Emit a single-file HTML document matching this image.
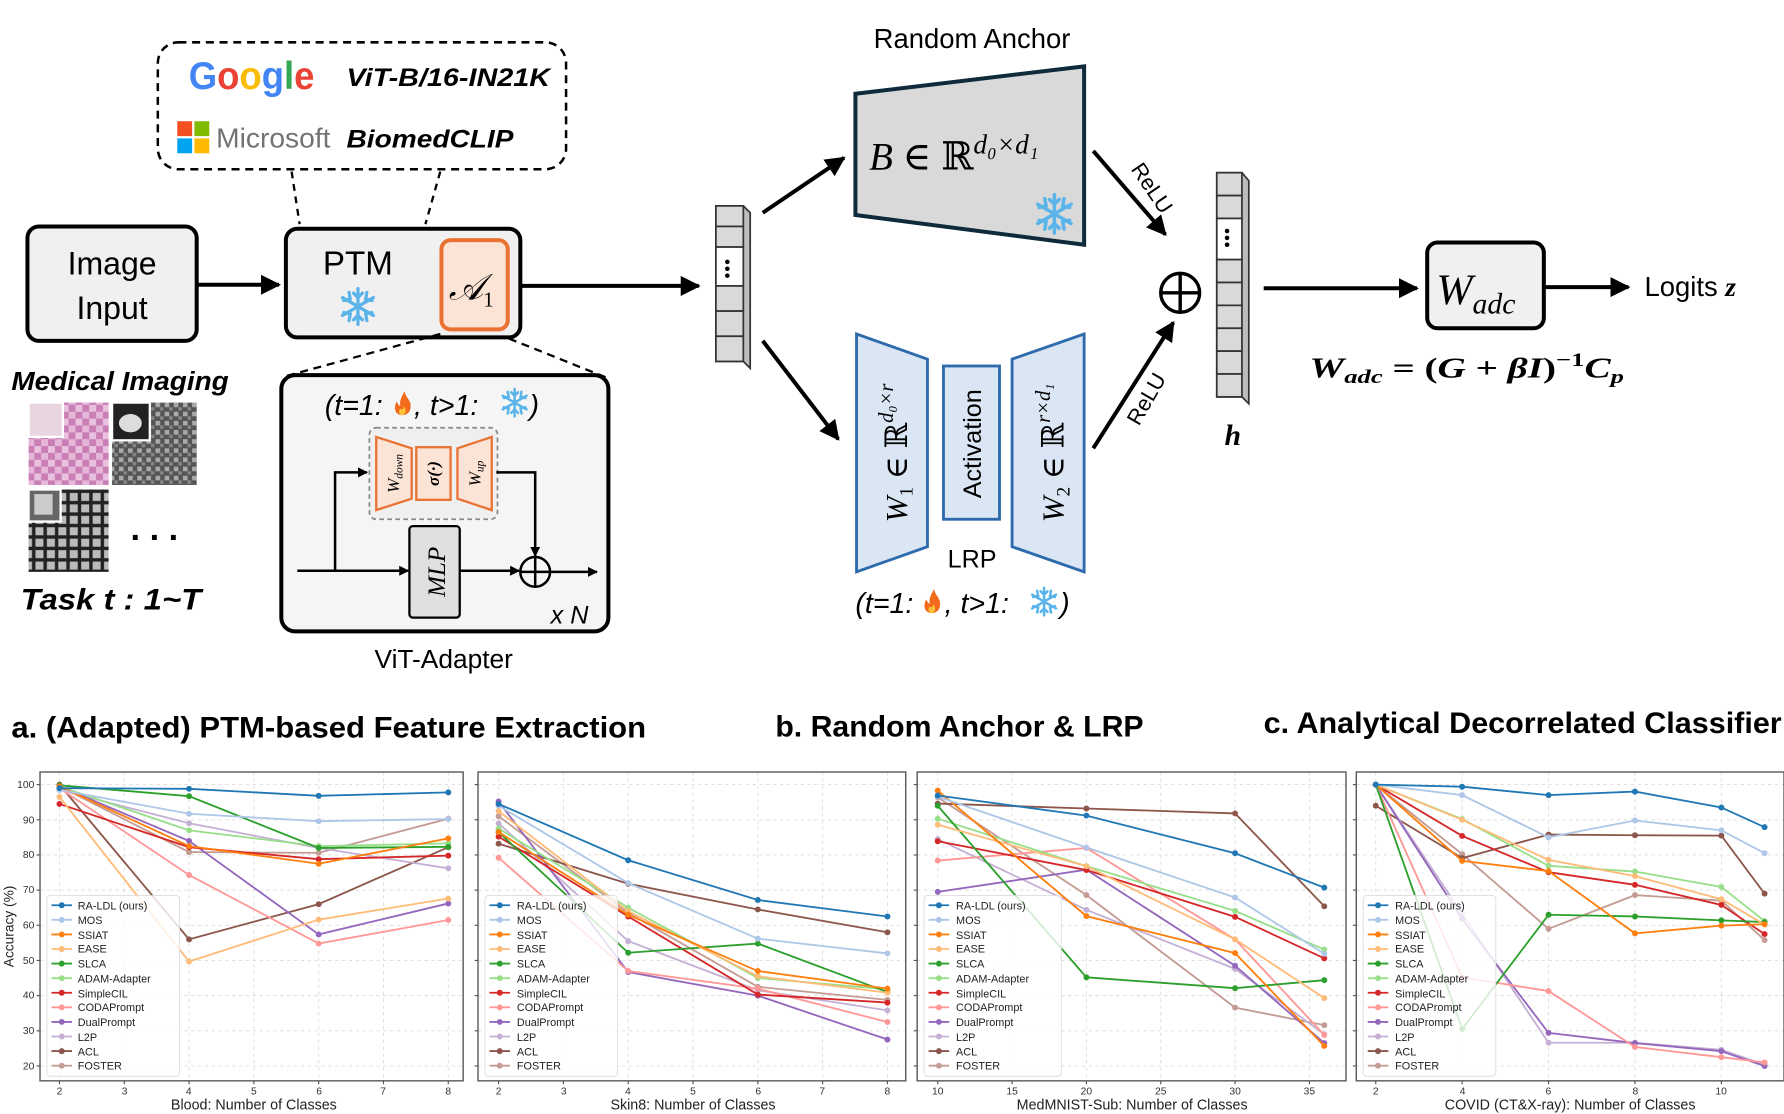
<!DOCTYPE html>
<html><head><meta charset="utf-8"><style>
html,body{margin:0;padding:0;background:#fff;}
svg{display:block;}
text{font-family:"Liberation Sans","DejaVu Sans",sans-serif;}
.ser{font-family:"Liberation Serif","DejaVu Serif",serif;}
.tk{font-size:9px;fill:#333;}
.lg{font-size:9.5px;fill:#222;}
.xl{font-size:12.5px;fill:#222;}
.ttl{font-size:26px;font-weight:bold;fill:#000;}
</style></head><body>
<svg id="s" width="1784" height="1114" viewBox="0 0 1560 974" preserveAspectRatio="none" xmlns="http://www.w3.org/2000/svg">
<defs>
<marker id="ah" viewBox="0 0 10 10" refX="9" refY="5" markerWidth="5" markerHeight="5" orient="auto"><path d="M0,0L10,5L0,10z" fill="#000"/></marker>
<marker id="ah2" viewBox="0 0 10 10" refX="9" refY="5" markerWidth="4" markerHeight="4" orient="auto"><path d="M0,0L10,5L0,10z" fill="#000"/></marker>
<pattern id="pk" width="12" height="12" patternUnits="userSpaceOnUse"><rect width="12" height="12" fill="#c97fb5"/><rect width="6" height="6" fill="#e6b6d8"/><rect x="6" y="6" width="6" height="6" fill="#e9c0dd"/></pattern>
<pattern id="gn" width="8" height="8" patternUnits="userSpaceOnUse"><rect width="8" height="8" fill="#555"/><rect width="4" height="4" fill="#aaa"/><rect x="4" y="4" width="3" height="3" fill="#888"/></pattern>
<pattern id="gd" width="10" height="10" patternUnits="userSpaceOnUse"><rect width="10" height="10" fill="#222"/><rect x="1" y="1" width="7" height="7" fill="#bbb"/></pattern>
<g id="snow" stroke="#5ab4ea" stroke-width="2.2" stroke-linecap="round" fill="none"><path d="M0,-12V12M-10.4,-6L10.4,6M-10.4,6L10.4,-6M-3,-9L0,-6L3,-9M-3,9L0,6L3,9M6,-9.5L5.2,-5L9.5,-4M-6,9.5L-5.2,5L-9.5,4M-9.5,-4L-5.2,-5L-6,-9.5M9.5,4L5.2,5L6,9.5"/></g>
<g id="fire"><path d="M0,10C-7,10 -8,3 -5,-2C-4,1 -2,2 -2,2C-3,-3 0,-8 2,-11C2,-6 8,-3 7,3C7,7 4,10 0,10Z" fill="#f26b1d"/><path d="M0,10C-3,10 -4,7 -2,4C-1,6 1,5 1,2C3,5 4,8 0,10Z" fill="#ffc53a"/></g>
</defs>

<rect x="138" y="37" width="357" height="111" rx="18" fill="none" stroke="#000" stroke-width="2.2" stroke-dasharray="7,5"/>
<text x="165" y="78" font-size="34" font-weight="bold" textLength="110" lengthAdjust="spacingAndGlyphs"><tspan fill="#4285f4">G</tspan><tspan fill="#ea4335">o</tspan><tspan fill="#fbbc05">o</tspan><tspan fill="#4285f4">g</tspan><tspan fill="#34a853">l</tspan><tspan fill="#ea4335">e</tspan></text>
<text x="303" y="75" font-size="22" font-weight="bold" font-style="italic" textLength="178" lengthAdjust="spacingAndGlyphs">ViT-B/16-IN21K</text>
<rect x="155" y="106" width="13" height="13" fill="#f25022"/><rect x="170" y="106" width="13" height="13" fill="#7fba00"/><rect x="155" y="121" width="13" height="13" fill="#00a4ef"/><rect x="170" y="121" width="13" height="13" fill="#ffb900"/>
<text x="189" y="129" font-size="24" fill="#737373" textLength="100" lengthAdjust="spacingAndGlyphs">Microsoft</text>
<text x="303" y="129" font-size="22" font-weight="bold" font-style="italic" textLength="146" lengthAdjust="spacingAndGlyphs">BiomedCLIP</text>
<line x1="255" y1="150" x2="262" y2="196" stroke="#000" stroke-width="2" stroke-dasharray="6,5"/>
<line x1="385" y1="150" x2="372" y2="196" stroke="#000" stroke-width="2" stroke-dasharray="6,5"/>

<rect x="24" y="198" width="148" height="100" rx="10" fill="#f0f0f0" stroke="#000" stroke-width="3.5"/>
<text x="98" y="240" font-size="28" text-anchor="middle">Image</text>
<text x="98" y="279" font-size="28" text-anchor="middle">Input</text>
<line x1="172" y1="249" x2="244" y2="249" stroke="#000" stroke-width="3.5" marker-end="url(#ah)"/>

<rect x="250" y="200" width="205" height="95" rx="10" fill="#f0f0f0" stroke="#000" stroke-width="3.5"/>
<text x="313" y="240" font-size="29" text-anchor="middle">PTM</text>
<use href="#snow" transform="translate(313 268) scale(1.3)"/>
<rect x="386" y="210" width="58" height="78" rx="8" fill="#fbe3d6" stroke="#e97132" stroke-width="3.5"/>
<text x="412" y="262" font-size="32" font-style="italic" text-anchor="middle" class="ser">𝒜<tspan font-size="18" dy="6" font-style="normal">1</tspan></text>
<line x1="455" y1="250" x2="611" y2="250" stroke="#000" stroke-width="3.5" marker-end="url(#ah)"/>
<line x1="385" y1="292" x2="246" y2="330" stroke="#000" stroke-width="2" stroke-dasharray="7,5"/>
<line x1="445" y1="296" x2="530" y2="330" stroke="#000" stroke-width="2" stroke-dasharray="7,5"/>

<text x="105" y="341" font-size="23" font-weight="bold" font-style="italic" text-anchor="middle" textLength="190" lengthAdjust="spacingAndGlyphs">Medical Imaging</text>
<rect x="25" y="352" width="70" height="72" fill="url(#pk)"/>
<rect x="25" y="352" width="30" height="30" fill="#e8d5e0" stroke="#fff" stroke-width="2"/>
<rect x="98" y="352" width="74" height="72" fill="url(#gn)"/>
<rect x="98" y="352" width="33" height="33" fill="#222" stroke="#fff" stroke-width="2"/><ellipse cx="114" cy="370" rx="10" ry="8" fill="#ddd"/>
<rect x="25" y="428" width="70" height="72" fill="url(#gd)"/>
<rect x="25" y="428" width="28" height="28" fill="#666" stroke="#fff" stroke-width="2"/><rect x="30" y="432" width="16" height="18" fill="#ccc"/>
<text x="135" y="472" font-size="30" font-weight="bold" text-anchor="middle">. . .</text>
<text x="97" y="533" font-size="26" font-weight="bold" font-style="italic" text-anchor="middle" textLength="158" lengthAdjust="spacingAndGlyphs">Task t : 1~T</text>

<rect x="246" y="328" width="286" height="224" rx="12" fill="#f5f5f5" stroke="#000" stroke-width="3.5"/>
<text x="284" y="363" font-size="25" font-style="italic">(t=1:</text><use href="#fire" x="352" y="353"/><text x="362" y="363" font-size="25" font-style="italic">, t&gt;1:</text><use href="#snow" x="450" y="352"/><text x="463" y="363" font-size="25" font-style="italic">)</text>
<rect x="323" y="374" width="112" height="80" rx="6" fill="#efefef" stroke="#888" stroke-width="1.5" stroke-dasharray="4,3"/>
<polygon points="329,382 360,392 360,436 329,446" fill="#fbe3d6" stroke="#e97132" stroke-width="2"/>
<rect x="364" y="391" width="30" height="46" fill="#fbe3d6" stroke="#e97132" stroke-width="2"/>
<polygon points="400,392 430,382 430,446 400,436" fill="#fbe3d6" stroke="#e97132" stroke-width="2"/>
<text transform="translate(349 414) rotate(-90)" font-size="15" font-style="italic" text-anchor="middle" class="ser">W<tspan font-size="10" dy="3">down</tspan></text>
<text transform="translate(384 414) rotate(-90)" font-size="15" font-style="italic" font-weight="bold" text-anchor="middle" class="ser">σ(·)</text>
<text transform="translate(420 414) rotate(-90)" font-size="15" font-style="italic" text-anchor="middle" class="ser">W<tspan font-size="10" dy="3">up</tspan></text>
<polyline points="260,499 357,499" fill="none" stroke="#000" stroke-width="2.2" marker-end="url(#ah2)"/>
<polyline points="293,499 293,413 321,413" fill="none" stroke="#000" stroke-width="2.2" marker-end="url(#ah2)"/>
<polyline points="434,413 468,413 468,486" fill="none" stroke="#000" stroke-width="2.2" marker-end="url(#ah2)"/>
<rect x="358" y="460" width="44" height="80" rx="3" fill="#e0e0e0" stroke="#000" stroke-width="2"/>
<text transform="translate(389 500) rotate(-90)" font-size="22" font-style="italic" text-anchor="middle" class="ser">MLP</text>
<line x1="402" y1="499" x2="454" y2="499" stroke="#000" stroke-width="2.2" marker-end="url(#ah2)"/>
<circle cx="468" cy="500" r="13" fill="none" stroke="#000" stroke-width="2.2"/><path d="M455,500H481M468,487V513" stroke="#000" stroke-width="2.2"/>
<line x1="481" y1="500" x2="522" y2="500" stroke="#000" stroke-width="2.2" marker-end="url(#ah2)"/>
<text x="498" y="545" font-size="22" font-style="italic" text-anchor="middle">x N</text>
<text x="388" y="584" font-size="23" text-anchor="middle">ViT-Adapter</text>

<g stroke="#333" stroke-width="1.5" fill="#d9d9d9">
<polygon points="626,180 650,180 656,186 656,322 650,316 626,316" fill="#bdbdbd"/>
<rect x="626" y="180" width="24" height="18"/><rect x="626" y="198" width="24" height="18"/><rect x="626" y="216" width="24" height="34" fill="#fff"/><rect x="626" y="250" width="24" height="22"/><rect x="626" y="272" width="24" height="22"/><rect x="626" y="294" width="24" height="22"/>
</g>
<circle cx="636" cy="229" r="2" fill="#000"/><circle cx="636" cy="235" r="2" fill="#000"/><circle cx="636" cy="241" r="2" fill="#000"/>
<line x1="667" y1="186" x2="738" y2="138" stroke="#000" stroke-width="3.5" marker-end="url(#ah)"/>
<line x1="667" y1="298" x2="733" y2="384" stroke="#000" stroke-width="3.5" marker-end="url(#ah)"/>

<text x="850" y="42" font-size="24" text-anchor="middle">Random Anchor</text>
<polygon points="748,82 948,58 948,214 748,188" fill="#d9d9d9" stroke="#0e2a3b" stroke-width="3.5"/>
<text x="760" y="148" font-size="34" font-style="italic" class="ser">B <tspan font-style="normal">∈ ℝ</tspan><tspan font-size="24" dy="-14">d₀×d₁</tspan></text>
<use href="#snow" transform="translate(922 187) scale(1.4)"/>

<polygon points="749,292 811,314 811,478 749,500" fill="#dae6f3" stroke="#2e6bac" stroke-width="2.5"/>
<rect x="825" y="320" width="49" height="134" fill="#dae6f3" stroke="#2e6bac" stroke-width="2.5"/>
<polygon points="885,314 948,292 948,500 885,478" fill="#dae6f3" stroke="#2e6bac" stroke-width="2.5"/>
<text transform="translate(793 396) rotate(-90)" font-size="27" text-anchor="middle" class="ser"><tspan font-style="italic">W</tspan><tspan font-size="17" dy="5">1</tspan><tspan dy="-5"> ∈ ℝ</tspan><tspan font-size="18" dy="-12" font-style="italic">d₀×r</tspan></text>
<text transform="translate(858 388) rotate(-90)" font-size="22" text-anchor="middle">Activation</text>
<text transform="translate(930 396) rotate(-90)" font-size="27" text-anchor="middle" class="ser"><tspan font-style="italic">W</tspan><tspan font-size="17" dy="5">2</tspan><tspan dy="-5"> ∈ ℝ</tspan><tspan font-size="18" dy="-12" font-style="italic">r×d₁</tspan></text>
<text x="850" y="496" font-size="22" text-anchor="middle">LRP</text>
<text x="748" y="536" font-size="25" font-style="italic">(t=1:</text><use href="#fire" x="815" y="526"/><text x="826" y="536" font-size="25" font-style="italic">, t&gt;1:</text><use href="#snow" x="913" y="526"/><text x="927" y="536" font-size="25" font-style="italic">)</text>

<line x1="956" y1="132" x2="1019" y2="205" stroke="#000" stroke-width="3.5" marker-end="url(#ah)"/>
<line x1="956" y1="392" x2="1026" y2="282" stroke="#000" stroke-width="3.5" marker-end="url(#ah)"/>
<text transform="translate(1002 168) rotate(56)" font-size="19" text-anchor="middle">ReLU</text>
<text transform="translate(1008 352) rotate(-60)" font-size="19" text-anchor="middle">ReLU</text>
<circle cx="1032" cy="256" r="17" fill="#fff" stroke="#000" stroke-width="3"/><path d="M1015,256H1049M1032,239V273" stroke="#000" stroke-width="3"/>

<g stroke="#333" stroke-width="1.5" fill="#d9d9d9">
<polygon points="1064,151 1086,151 1092,158 1092,353 1086,347 1064,347" fill="#bdbdbd"/>
<rect x="1064" y="151" width="22" height="20"/><rect x="1064" y="171" width="22" height="20"/><rect x="1064" y="191" width="22" height="36" fill="#fff"/><rect x="1064" y="227" width="22" height="20"/><rect x="1064" y="247" width="22" height="20"/><rect x="1064" y="267" width="22" height="20"/><rect x="1064" y="287" width="22" height="20"/><rect x="1064" y="307" width="22" height="20"/><rect x="1064" y="327" width="22" height="20"/>
</g>
<circle cx="1073" cy="202" r="2" fill="#000"/><circle cx="1073" cy="208" r="2" fill="#000"/><circle cx="1073" cy="214" r="2" fill="#000"/>
<text x="1078" y="389" font-size="26" font-weight="bold" font-style="italic" text-anchor="middle" class="ser">h</text>
<line x1="1105" y1="252" x2="1239" y2="252" stroke="#000" stroke-width="3.5" marker-end="url(#ah)"/>
<rect x="1248" y="212" width="102" height="75" rx="9" fill="#f0f0f0" stroke="#000" stroke-width="3.5"/>
<text x="1256" y="266" font-size="38" font-style="italic" class="ser">W<tspan font-size="26" dy="8">adc</tspan></text>
<line x1="1351" y1="251" x2="1424" y2="251" stroke="#000" stroke-width="3.5" marker-end="url(#ah)"/>
<text x="1438" y="259" font-size="24">Logits <tspan font-weight="bold" font-style="italic" class="ser">z</tspan></text>
<text x="1145" y="330" font-size="25" font-weight="bold" font-style="italic" class="ser" textLength="275" lengthAdjust="spacingAndGlyphs">W<tspan font-size="17" dy="5">adc</tspan><tspan dy="-5" font-style="normal"> = (</tspan>G<tspan font-style="normal"> + </tspan>βI<tspan font-style="normal">)</tspan><tspan font-size="17" dy="-10" font-style="normal">−1</tspan><tspan dy="10">C</tspan><tspan font-size="17" dy="5">p</tspan></text>

<text x="10" y="645" class="ttl" textLength="555" lengthAdjust="spacingAndGlyphs">a. (Adapted) PTM-based Feature Extraction</text>
<text x="678" y="644" class="ttl" textLength="322" lengthAdjust="spacingAndGlyphs">b. Random Anchor &amp; LRP</text>
<text x="1105" y="641" class="ttl" textLength="453" lengthAdjust="spacingAndGlyphs">c. Analytical Decorrelated Classifier</text>

<g id="charts"></g>
<g fill="none" stroke="#555" stroke-width="1.2">
<rect x="35" y="675" width="370" height="270"/><rect x="418" y="675" width="374" height="270"/><rect x="802" y="675" width="375" height="270"/><rect x="1186" y="675" width="374" height="270"/>
</g>
<g class="tk" text-anchor="end">
<text x="30" y="689">100</text><text x="30" y="720">90</text><text x="30" y="750">80</text><text x="30" y="781">70</text><text x="30" y="812">60</text><text x="30" y="843">50</text><text x="30" y="873">40</text><text x="30" y="904">30</text><text x="30" y="935">20</text>
</g>
<text transform="translate(12 810) rotate(-90)" font-size="12" text-anchor="middle" fill="#222">Accuracy (%)</text>
<g class="tk" text-anchor="middle">
<text x="52" y="957">2</text><text x="109" y="957">3</text><text x="165" y="957">4</text><text x="222" y="957">5</text><text x="279" y="957">6</text><text x="335" y="957">7</text><text x="392" y="957">8</text>
<text x="436" y="957">2</text><text x="493" y="957">3</text><text x="549" y="957">4</text><text x="606" y="957">5</text><text x="663" y="957">6</text><text x="719" y="957">7</text><text x="776" y="957">8</text>
<text x="820" y="957">10</text><text x="885" y="957">15</text><text x="950" y="957">20</text><text x="1015" y="957">25</text><text x="1080" y="957">30</text><text x="1145" y="957">35</text>
<text x="1203" y="957">2</text><text x="1279" y="957">4</text><text x="1354" y="957">6</text><text x="1430" y="957">8</text><text x="1505" y="957">10</text>
</g>
<g class="xl" text-anchor="middle">
<text x="222" y="970">Blood: Number of Classes</text>
<text x="606" y="970">Skin8: Number of Classes</text>
<text x="990" y="970">MedMNIST-Sub: Number of Classes</text>
<text x="1373" y="970">COVID (CT&amp;X-ray): Number of Classes</text>
</g>
<g class="lg">
<g transform="translate(0 0)"><text x="68" y="795">RA-LDL (ours)</text><text x="68" y="808">MOS</text><text x="68" y="821">SSIAT</text><text x="68" y="833">EASE</text><text x="68" y="846">SLCA</text><text x="68" y="859">ADAM-Adapter</text><text x="68" y="872">SimpleCIL</text><text x="68" y="884">CODAPrompt</text><text x="68" y="897">DualPrompt</text><text x="68" y="910">L2P</text><text x="68" y="923">ACL</text><text x="68" y="935">FOSTER</text></g>
<g transform="translate(384 0)"><text x="68" y="795">RA-LDL (ours)</text><text x="68" y="808">MOS</text><text x="68" y="821">SSIAT</text><text x="68" y="833">EASE</text><text x="68" y="846">SLCA</text><text x="68" y="859">ADAM-Adapter</text><text x="68" y="872">SimpleCIL</text><text x="68" y="884">CODAPrompt</text><text x="68" y="897">DualPrompt</text><text x="68" y="910">L2P</text><text x="68" y="923">ACL</text><text x="68" y="935">FOSTER</text></g>
<g transform="translate(768 0)"><text x="68" y="795">RA-LDL (ours)</text><text x="68" y="808">MOS</text><text x="68" y="821">SSIAT</text><text x="68" y="833">EASE</text><text x="68" y="846">SLCA</text><text x="68" y="859">ADAM-Adapter</text><text x="68" y="872">SimpleCIL</text><text x="68" y="884">CODAPrompt</text><text x="68" y="897">DualPrompt</text><text x="68" y="910">L2P</text><text x="68" y="923">ACL</text><text x="68" y="935">FOSTER</text></g>
<g transform="translate(1152 0)"><text x="68" y="795">RA-LDL (ours)</text><text x="68" y="808">MOS</text><text x="68" y="821">SSIAT</text><text x="68" y="833">EASE</text><text x="68" y="846">SLCA</text><text x="68" y="859">ADAM-Adapter</text><text x="68" y="872">SimpleCIL</text><text x="68" y="884">CODAPrompt</text><text x="68" y="897">DualPrompt</text><text x="68" y="910">L2P</text><text x="68" y="923">ACL</text><text x="68" y="935">FOSTER</text></g>
</g>
</svg>
<script>
(function(){
var NS="http://www.w3.org/2000/svg";
var cols=["#1f77b4","#aec7e8","#ff7f0e","#ffbb78","#2ca02c","#98df8a","#d62728","#ff9896","#9467bd","#c5b0d5","#8c564b","#c49c94"];
function Y(v){return 686+(100-v)*3.075;}
var P=[
 {x0:35,w:370,xs:[2,4,6,8],fx:function(k){return 52+(k-2)*56.667;},gx:[2,3,4,5,6,7,8],d:[
 [99,98.8,96.8,97.8],[98.5,91.7,89.6,90.2],[99.5,82.5,77.5,84.7],[96.5,49.7,61.6,67.6],[99.8,96.7,82,82.3],[99.5,87,82.5,83.3],[94.5,82.2,78.8,79.8],[99,74.3,54.8,61.5],[99.5,84,57.4,66.2],[98.5,89,82,76.2],[100,56,66,82.2],[99.5,80.8,80.6,90.3]]},
 {x0:418,w:374,xs:[2,4,6,8],fx:function(k){return 436+(k-2)*56.667;},gx:[2,3,4,5,6,7,8],d:[
 [94.5,78.5,67.2,62.5],[94,72,56.2,52],[86.5,63,47,42],[92.5,64,45.5,40.8],[86.5,52.2,54.8,41],[87.5,65,45,41.8],[85.2,62.5,40.3,38],[79.2,47,42,32.5],[95.2,46.7,40,27.5],[89,55.5,41.5,35.8],[83.2,71.8,64.5,58],[91,63.5,42.5,38.8]]},
 {x0:802,w:375,xs:[10,20,30,36],fx:function(k){return 820+(k-10)*13;},gx:[10,15,20,25,30,35],d:[
 [96.9,91.2,80.5,70.7],[96.6,82.1,67.9,51.9],[98.3,62.6,52.1,25.7],[88.6,76.8,56,39.3],[94,45.2,42.1,44.4],[90.3,76.8,64.1,53.1],[83.9,75.7,62.4,50.6],[78.4,82,56,28.8],[69.5,75.8,48.5,26.5],[84.5,64.4,47.6,29],[94.6,93.2,91.8,65.4],[96.4,68.6,36.6,31.6]]},
 {x0:1186,w:374,xs:[2,4,6,8,10,11],fx:function(k){return 1203+(k-2)*37.78;},gx:[2,4,6,8,10],d:[
 [100,99.4,97,98,93.5,87.9],[100,97,85,89.8,87,80.5],[100,78.3,75.4,57.7,59.9,60.3],[100,90,78.6,74,67.4,60.2],[100,30.5,63,62.5,61.4,60.9],[100,90.2,76.9,75.3,70.9,61.2],[100,85.4,75.1,71.5,65.8,57.5],[100,45.2,41.3,25.4,22.5,21],[100,61.8,29.4,26.5,24.2,20],[100,63.3,26.6,26.6,24.6,20.4],[94,79.1,85.8,85.6,85.5,69],[100,80.2,59,68.6,67,55.8]]}
];
var g=document.getElementById("charts");
function el(n,a,p){var e=document.createElementNS(NS,n);for(var k in a)e.setAttribute(k,a[k]);(p||g).appendChild(e);return e;}
P.forEach(function(p,pi){
 el("rect",{x:p.x0,y:675,width:p.w,height:270,fill:"#fff"});
 for(var v=20;v<=100;v+=10){el("line",{x1:p.x0,x2:p.x0+p.w,y1:Y(v),y2:Y(v),stroke:"#ddd","stroke-width":0.8,"stroke-dasharray":"3,3"});el("line",{x1:p.x0-3,x2:p.x0,y1:Y(v),y2:Y(v),stroke:"#555","stroke-width":1});}
 p.gx.forEach(function(k){var x=p.fx(k);el("line",{x1:x,x2:x,y1:675,y2:945,stroke:"#ddd","stroke-width":0.8,"stroke-dasharray":"3,3"});el("line",{x1:x,x2:x,y1:945,y2:948,stroke:"#555","stroke-width":1});});
 for(var i=p.d.length-1;i>=0;i--){
  var pts=p.d[i].map(function(v,j){return p.fx(p.xs[j]).toFixed(1)+","+Y(v).toFixed(1);});
  el("polyline",{points:pts.join(" "),fill:"none",stroke:cols[i],"stroke-width":1.6});
  p.d[i].forEach(function(v,j){el("circle",{cx:p.fx(p.xs[j]),cy:Y(v),r:2.6,fill:cols[i]});});
 }
 var lx=p.x0+6;
 el("rect",{x:lx,y:783,width:pi==2?120:116,height:158,rx:3,fill:"#fff","fill-opacity":0.8,stroke:"#ddd","stroke-width":0.8});
 for(var i=0;i<12;i++){var yy=791.5+i*12.75;el("line",{x1:lx+4,x2:lx+22,y1:yy,y2:yy,stroke:cols[i],"stroke-width":1.6});el("circle",{cx:lx+13,cy:yy,r:2.6,fill:cols[i]});}
});
})();
</script>
</body></html>
